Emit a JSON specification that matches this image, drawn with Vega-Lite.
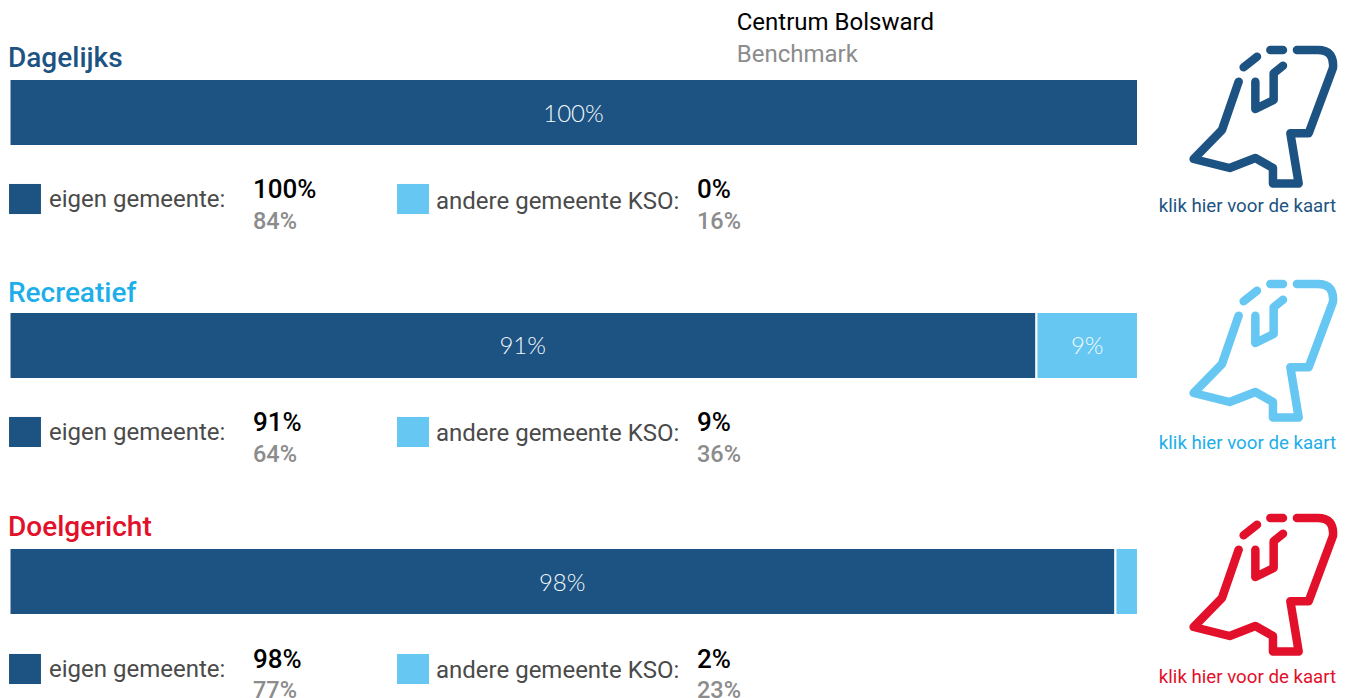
{"$schema":"https://vega.github.io/schema/vega-lite/v6.json","width":1348,"height":698,"padding":0,"autosize":{"type":"none"},"background":"white","config":{"view":{"stroke":null},"axis":{"domain":false},"text":{"font":"Roboto"}},
"datasets":{
"rijen":[
{"groep":"Dagelijks","rang":0,"segment":"eigen gemeente:","volgorde":1,"aandeel":1.0,"benchmark":0.84},
{"groep":"Dagelijks","rang":0,"segment":"andere gemeente KSO:","volgorde":2,"aandeel":0.0,"benchmark":0.16},
{"groep":"Recreatief","rang":1,"segment":"eigen gemeente:","volgorde":1,"aandeel":0.91,"benchmark":0.64},
{"groep":"Recreatief","rang":1,"segment":"andere gemeente KSO:","volgorde":2,"aandeel":0.09,"benchmark":0.36},
{"groep":"Doelgericht","rang":2,"segment":"eigen gemeente:","volgorde":1,"aandeel":0.98,"benchmark":0.77},
{"groep":"Doelgericht","rang":2,"segment":"andere gemeente KSO:","volgorde":2,"aandeel":0.02,"benchmark":0.23}],
"groepen":[{"groep":"Dagelijks","rang":0,"kaart":"klik hier voor de kaart"},{"groep":"Recreatief","rang":1,"kaart":"klik hier voor de kaart"},{"groep":"Doelgericht","rang":2,"kaart":"klik hier voor de kaart"}],
"kop":[{"kop":"Centrum Bolsward","regel":0},{"kop":"Benchmark","regel":1}]},
"resolve":{"scale":{"x":"independent","y":"independent","color":"independent"}},
"layer":[
{"data":{"name":"rijen"},"mark":{"type":"bar","orient":"horizontal","height":67,"stroke":"white","strokeWidth":2},
"encoding":{"x":{"field":"aandeel","type":"quantitative","stack":"zero","axis":null,"scale":{"domain":[0,1],"range":[9.5,1138],"padding":0}},
"y":{"field":"rang","type":"quantitative","axis":null,"scale":{"type":"pow","exponent":1.0093,"domain":[0,2],"range":[112.5,581.5],"nice":false,"zero":false,"padding":0}},
"color":{"field":"segment","type":"nominal","legend":null,"scale":{"domain":["eigen gemeente:","andere gemeente KSO:"],"range":["#1d5382","#65c7f2"]}},
"order":{"field":"volgorde","type":"quantitative"}}},
{"data":{"name":"rijen"},"transform":[{"filter":"datum.aandeel >= 0.05"}],"mark":{"type":"text","font":"Lato","fontWeight":300,"fontSize":24,"color":"#f4fafd","baseline":"middle","dy":2},
"encoding":{"x":{"field":"aandeel","type":"quantitative","stack":"zero","bandPosition":0.5,"axis":null,"scale":{"domain":[0,1],"range":[9,1138]}},
"y":{"field":"rang","type":"quantitative","axis":null,"scale":{"type":"pow","exponent":1.0093,"domain":[0,2],"range":[112.5,581.5],"nice":false,"zero":false}},
"text":{"field":"aandeel","type":"quantitative","format":".0%"},
"detail":{"field":"segment"},"order":{"field":"volgorde","type":"quantitative"}}},
{"data":{"name":"groepen"},"mark":{"type":"text","fontSize":28,"fontWeight":500,"align":"left","baseline":"middle"},
"encoding":{"x":{"datum":0,"type":"quantitative","axis":null,"scale":{"domain":[0,1],"range":[8,1137]}},
"y":{"field":"rang","type":"quantitative","axis":null,"scale":{"domain":[0,2],"range":[59,528],"nice":false,"zero":false}},
"text":{"field":"groep"},
"color":{"field":"groep","type":"nominal","legend":null,"scale":{"domain":["Dagelijks","Recreatief","Doelgericht"],"range":["#1d5382","#1eaee9","#e2102a"]}}}},
{"data":{"name":"kop"},"mark":{"type":"text","fontSize":24,"align":"left","baseline":"middle"},
"encoding":{"x":{"datum":0.6446,"type":"quantitative","axis":null,"scale":{"domain":[0,1],"range":[9,1138]}},
"y":{"field":"regel","type":"quantitative","axis":null,"scale":{"domain":[0,1],"range":[23,55],"nice":false,"zero":false}},
"text":{"field":"kop"},
"color":{"field":"kop","type":"nominal","legend":null,"scale":{"domain":["Centrum Bolsward","Benchmark"],"range":["#000000","#8c8c8c"]}}}},
{"data":{"name":"rijen"},"mark":{"type":"point","filled":true,"size":961,"shape":"M-1.03,-0.97H1.03V0.97H-1.03Z","opacity":1},
"encoding":{"x":{"field":"segment","type":"nominal","axis":null,"scale":{"type":"point","padding":0,"domain":["eigen gemeente:","andere gemeente KSO:"],"range":[25,413]}},
"y":{"field":"rang","type":"quantitative","axis":null,"scale":{"type":"pow","exponent":1.0124,"domain":[0,2],"range":[199,669],"nice":false,"zero":false}},
"color":{"field":"segment","type":"nominal","legend":null,"scale":{"domain":["eigen gemeente:","andere gemeente KSO:"],"range":["#1d5382","#65c7f2"]}}}},
{"data":{"name":"rijen"},"transform":[{"filter":"datum.volgorde == 1"}],"mark":{"type":"text","fontSize":24,"color":"#4a4a4a","align":"left","baseline":"middle"},
"encoding":{"x":{"field":"segment","type":"nominal","axis":null,"scale":{"type":"point","padding":0,"domain":["eigen gemeente:","andere gemeente KSO:"],"range":[49,436]}},
"y":{"field":"rang","type":"quantitative","axis":null,"scale":{"type":"pow","exponent":1.0124,"domain":[0,2],"range":[200,670],"nice":false,"zero":false}},
"text":{"field":"segment"}}},
{"data":{"name":"rijen"},"transform":[{"filter":"datum.volgorde == 2"}],"mark":{"type":"text","fontSize":24,"color":"#4a4a4a","align":"left","baseline":"middle"},
"encoding":{"x":{"field":"segment","type":"nominal","axis":null,"scale":{"type":"point","padding":0,"domain":["eigen gemeente:","andere gemeente KSO:"],"range":[49,436]}},
"y":{"field":"rang","type":"quantitative","axis":null,"scale":{"type":"pow","exponent":1.0124,"domain":[0,2],"range":[202,671],"nice":false,"zero":false}},
"text":{"field":"segment"}}},
{"data":{"name":"rijen"},"mark":{"type":"text","fontSize":26,"fontWeight":500,"color":"#000000","align":"left","baseline":"middle"},
"encoding":{"x":{"field":"segment","type":"nominal","axis":null,"scale":{"type":"point","padding":0,"domain":["eigen gemeente:","andere gemeente KSO:"],"range":[253,697]}},
"y":{"field":"rang","type":"quantitative","axis":null,"scale":{"type":"pow","exponent":1.0124,"domain":[0,2],"range":[190,660],"nice":false,"zero":false}},
"text":{"field":"aandeel","type":"quantitative","format":".0%"}}},
{"data":{"name":"rijen"},"mark":{"type":"text","fontSize":23.5,"fontWeight":500,"color":"#8c8c8c","align":"left","baseline":"middle"},
"encoding":{"x":{"field":"segment","type":"nominal","axis":null,"scale":{"type":"point","padding":0,"domain":["eigen gemeente:","andere gemeente KSO:"],"range":[253,697]}},
"y":{"field":"rang","type":"quantitative","axis":null,"scale":{"type":"pow","exponent":1.0093,"domain":[0,2],"range":[222,691],"nice":false,"zero":false}},
"text":{"field":"benchmark","type":"quantitative","format":".0%"}}},
{"data":{"name":"groepen"},"mark":{"type":"point","filled":false,"size":4,"strokeWidth":8.5,"opacity":1,"strokeCap":"round","strokeJoin":"round","shape":"M33.3,-65L54,-65Q71,-65 69.3,-47L45,18.3L26.7,18.3L35,68.5L9.3,68.5L9.3,53L-8.3,43L-34,53L-70,44L-41.7,15L-25,-33.3M-20,-47.7L-6.7,-58.3M6.7,-65L19.3,-65M19.3,-49.3L10,-41.7L10,-15L-8.3,-6L-8.3,-33.3"},
"encoding":{"x":{"datum":1.1113,"type":"quantitative","axis":null,"scale":{"domain":[0,1],"range":[9,1138]}},
"y":{"field":"rang","type":"quantitative","axis":null,"scale":{"domain":[0,2],"range":[115,583],"nice":false,"zero":false}},
"color":{"field":"groep","type":"nominal","legend":null,"scale":{"domain":["Dagelijks","Recreatief","Doelgericht"],"range":["#1d5382","#65c7f2","#e2102a"]}}}},
{"data":{"name":"groepen"},"mark":{"type":"text","fontSize":18.7,"align":"center","baseline":"middle"},
"encoding":{"x":{"datum":1.097,"type":"quantitative","axis":null,"scale":{"domain":[0,1],"range":[9,1138]}},
"y":{"field":"rang","type":"quantitative","axis":null,"scale":{"type":"pow","exponent":0.991,"domain":[0,2],"range":[206,677],"nice":false,"zero":false}},
"text":{"field":"kaart"},
"color":{"field":"groep","type":"nominal","legend":null,"scale":{"domain":["Dagelijks","Recreatief","Doelgericht"],"range":["#1d5382","#1eaee9","#e2102a"]}}}}
]}
